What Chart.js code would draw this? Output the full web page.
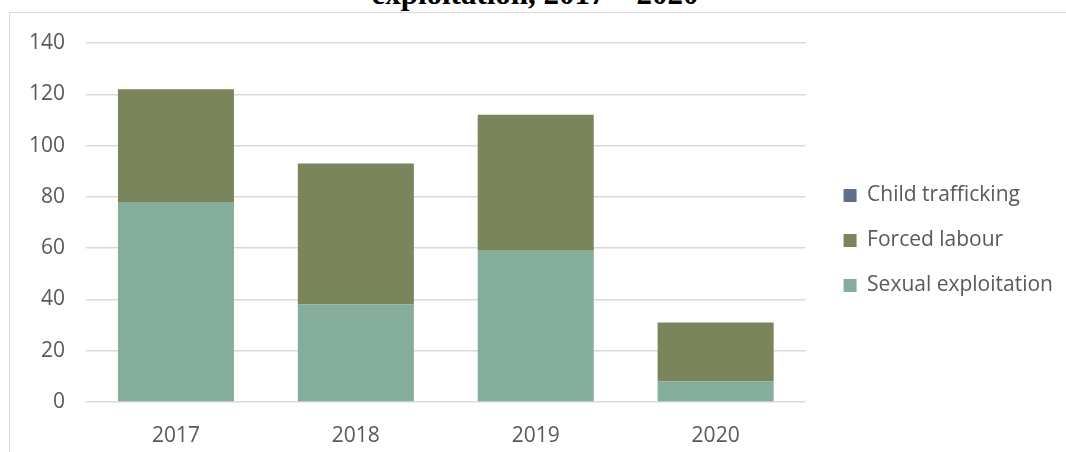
<!DOCTYPE html>
<html>
<head>
<meta charset="utf-8">
<script src="https://cdn.jsdelivr.net/npm/chart.js@4.4.0/dist/chart.umd.min.js"></script>
<style>
  html, body { margin: 0; padding: 0; background: #fff; }
  body { width: 1066px; height: 452px; overflow: hidden; position: relative; }
  #title {
    position: absolute; left: 0; top: -22px; width: 1070px;
    text-align: center; font: bold 31px/31px "Liberation Serif", "Times New Roman", serif;
    color: #000; white-space: nowrap;
  }
  #frame {
    position: absolute; left: 9px; top: 12px; width: 1200px; height: 600px;
    border: 1px solid #d9d9d9; box-sizing: border-box;
  }
  #wrap { position: absolute; left: 0; top: 0; width: 1066px; height: 452px; }
</style>
</head>
<body>
<div id="title">exploitation, 2017 – 2020</div>
<div id="frame"></div>
<div id="wrap"><canvas id="chart"></canvas></div>
<script>
// Données
const years = ["2017", "2018", "2019", "2020"];
const sexualExploitation = [78, 38, 59, 8];
const forcedLabour = [44, 55, 53, 23];
const childTrafficking = [0, 0, 0, 0];
const yTicks = [0, 20, 40, 60, 80, 100, 120, 140];

const police = "'Open Sans', 'Noto Sans', sans-serif";
const gris = "#595959";

const ctx = document.getElementById("chart");

const data = {
    labels: years,
    datasets: [
        {
            label: "Sexual exploitation",
            data: sexualExploitation,
            backgroundColor: "#84ad9c",
        },
        {
            label: "Forced labour",
            data: forcedLabour,
            backgroundColor: "#7a855c",
        },
        {
            label: "Child trafficking",
            data: childTrafficking,
            backgroundColor: "#5f7088",
        },
    ],
};

const config = {
    type: "bar",
    data: data,
    options: {
        responsive: true,
        maintainAspectRatio: false,
        animation: false,
        barPercentage: 0.645,
        categoryPercentage: 1,
        layout: { padding: { top: 43, right: 3, bottom: 0, left: 0 } },
        plugins: {
            legend: {
                position: "right",
                align: "start",
                reverse: true,
                maxWidth: 400,
                onClick: (e) => e.stopPropagation(),
                // titre vide : sert seulement à descendre la légende
                title: { display: true, text: " ", font: { size: 10 }, padding: { top: 0, bottom: 106 } },
                labels: {
                    boxWidth: 13,
                    boxHeight: 13,
                    padding: 24,
                    color: gris,
                    font: { family: police, size: 21 },
                },
            },
            tooltip: { enabled: false },
        },
        scales: {
            x: {
                stacked: true,
                grid: { display: false },
                border: { display: false },
                ticks: { color: gris, padding: 13, font: { family: police, size: 21 } },
                afterFit: (s) => { s.height = 50; },
            },
            y: {
                stacked: true,
                min: 0,
                max: 140,
                afterBuildTicks: (s) => { s.ticks = yTicks.map((v) => ({ value: v })); },
                grid: { color: "#d9d9d9", lineWidth: 1.5, drawTicks: false },
                border: { display: false },
                ticks: { color: gris, padding: 21, font: { family: police, size: 21 } },
                afterFit: (s) => { s.width = 86; },
            },
            // espace vide entre la zone du graphique et la légende
            spacer: {
                position: "right",
                display: true,
                grid: { display: false },
                border: { display: false },
                ticks: { display: false },
                afterFit: (s) => { s.width = 14; },
            },
        },
    },
};

var chart = new Chart(ctx, config);
</script>
</body>
</html>
